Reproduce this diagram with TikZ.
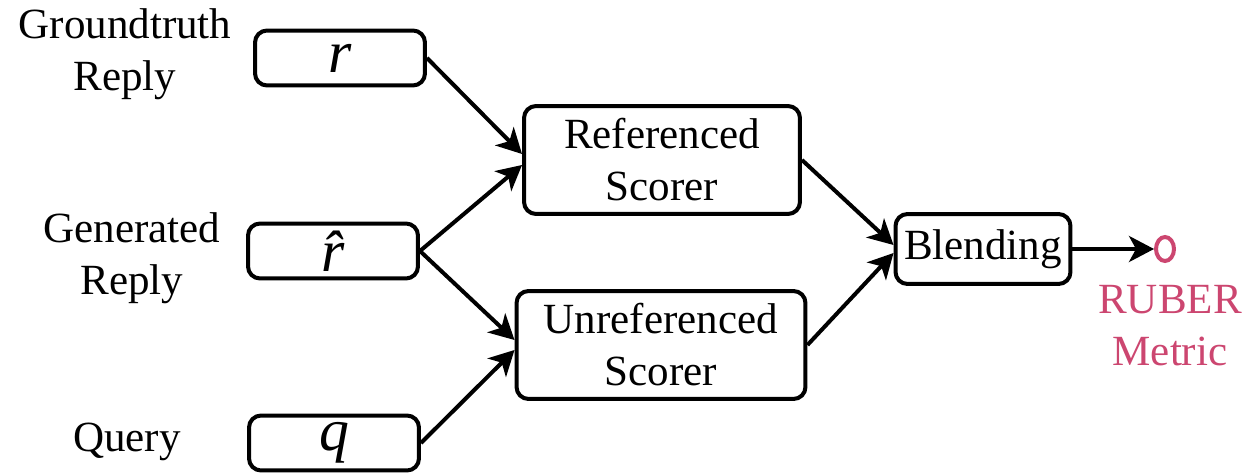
\documentclass[tikz,border=0pt]{standalone}
\usepackage{fontspec}
\setmainfont{LiberationSerif}[Extension=.ttf,UprightFont=*-Regular,ItalicFont=*-Italic,BoldFont=*-Bold]
\usetikzlibrary{arrows.meta,shapes.geometric}
\definecolor{ruberpink}{RGB}{204,70,112}
\begin{document}
\begin{tikzpicture}[x=0.02cm,y=-0.02cm,
  box/.style={draw,line width=0.08cm,rounded corners=0.24cm,inner sep=0pt,align=center,
    font=\rmfamily\fontsize{24.5}{29.6}\selectfont},
  inbox/.style={box,minimum width=3.4cm,minimum height=1.1cm,font=\rmfamily\itshape\fontsize{34}{36}\selectfont},
  label/.style={align=center,inner sep=0pt,font=\rmfamily\fontsize{24.5}{29.6}\selectfont},
  conn/.style={line width=0.08cm,-{Stealth[length=0.5cm,width=0.52cm,inset=0.14cm]}}]
\useasboundingbox (0,0) rectangle (1247,476);

% input boxes
\node[inbox] (r)  at (340,58)  {r};
\node[inbox] (rh) at (333,251) {\^{r}};
\node[inbox] (q)  at (334,443) {q};

% input labels
\node[label] (lr)  at (125,54)  {Groundtruth\\Reply};
\node[label] (lrh) at (132,258) {Generated\\Reply};
\node[label] (lq)  at (127,442) {Query};

% scorers
\node[box,minimum width=5.52cm,minimum height=2.16cm] (ref) at (662,160) {Referenced\\Scorer};
\node[box,minimum width=5.78cm,minimum height=2.16cm] (unr) at (661,345) {Unreferenced\\Scorer};

% blending and output
\node[box,minimum width=3.5cm,minimum height=1.4cm] (bl) at (983,249) {Blending};
\node[draw=ruberpink,line width=0.08cm,ellipse,minimum width=0.36cm,minimum height=0.48cm,inner sep=0pt] (out) at (1165,249) {};
\node[label,text=ruberpink] (lout) at (1170,326) {RUBER\\Metric};

% connectors
\draw[conn] (r.east) -- ([yshift=0.12cm]ref.west);
\draw[conn] (rh.east) -- ([yshift=-0.1cm]ref.west);
\draw[conn] (rh.east) -- ([yshift=0.1cm]unr.west);
\draw[conn] (q.east) -- ([yshift=-0.1cm]unr.west);
\draw[conn] (ref.east) -- ([yshift=0.08cm]bl.west);
\draw[conn] (unr.east) -- ([yshift=-0.08cm]bl.west);
\draw[conn] (bl.east) -- (out.west);
\end{tikzpicture}
\end{document}
